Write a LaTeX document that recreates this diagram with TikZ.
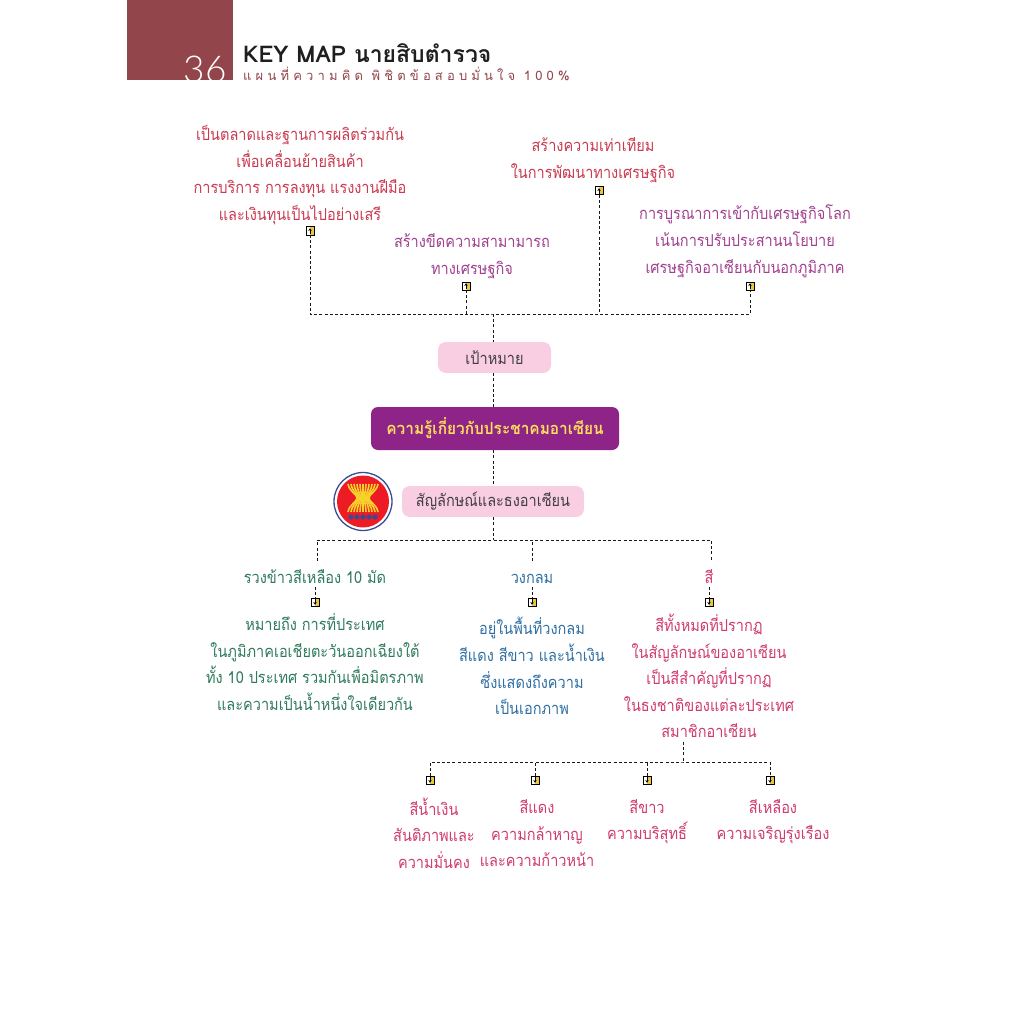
\documentclass[tikz,border=0pt]{standalone}
\usepackage{fontspec}
\usetikzlibrary{arrows.meta}
\newfontfamily\thaifont[Script=Thai,FakeStretch=0.88]{Loma}
\newfontfamily\thaimain[Script=Thai,FakeStretch=0.935]{Loma}
\newfontfamily\thaititle[Script=Thai]{Loma}
\newfontfamily\thaispaced[Script=Thai,LetterSpace=32]{Loma}
\newfontfamily\numfont{Lato Light}
\definecolor{hdr}{HTML}{92454B}
\definecolor{redtx}{HTML}{C93A50}
\definecolor{purptx}{HTML}{A0408F}
\definecolor{greentx}{HTML}{2F7A5C}
\definecolor{bluetx}{HTML}{2F6FA3}
\definecolor{pinktx}{HTML}{CF3A70}
\definecolor{pillpink}{HTML}{F9CDE2}
\definecolor{pillpurp}{HTML}{8E2488}
\definecolor{goldtx}{HTML}{FFDE5A}
\definecolor{iconyel}{HTML}{E8C840}
\definecolor{logored}{HTML}{ED1C24}
\definecolor{logoyel}{HTML}{F7D22A}
\definecolor{logoblue}{HTML}{3A4A96}
\tikzset{
  maptext/.style={align=center,inner sep=0pt,yshift=-2pt,font=\thaifont\fontsize{16.5}{26.6}\selectfont,
    execute at begin node=\strut,execute at end node=\strut},
  softpill/.style={rounded corners=8pt,fill=pillpink,inner sep=0pt,text=black!75,font=\thaifont\fontsize{16.5}{20}\selectfont},
  mainpill/.style={rounded corners=7pt,fill=pillpurp,inner sep=0pt,text=goldtx,font=\thaimain\bfseries\fontsize{16.5}{20}\selectfont},
  dashlink/.style={draw=black!90,line width=1pt,dash pattern=on 3pt off 2.2pt},
  iconbox/.style={draw=black,line width=1pt,minimum size=8pt,inner sep=0pt,outer sep=0pt,
    path picture={\fill[iconyel] (path picture bounding box.south) rectangle (path picture bounding box.north east);}},
  iconup/.style={iconbox,label={[inner sep=0pt,anchor=center]center:\tikz\draw[line width=.8pt,-{Stealth[length=2.6pt,width=3.4pt]}] (0,0)--(0,5.5pt);}},
  icondown/.style={iconbox,label={[inner sep=0pt,anchor=center]center:\tikz\draw[line width=.8pt,-{Stealth[length=2.6pt,width=3.4pt]}] (0,5.5pt)--(0,0);}},
}
\begin{document}
\begin{tikzpicture}[x=1pt,y=-1pt]
\useasboundingbox (0,0) rectangle (1024,1024);
% header
\begin{scope}
\clip (127,0) rectangle (233,80);
\fill[hdr] (127,0) rectangle (233,80);
\node[anchor=base east,text=white,inner sep=0pt,font=\numfont\fontsize{37}{37}\selectfont] (pagenum) at (227,83) {36};
\end{scope}
\node[anchor=base west,inner sep=0pt,text=black!88,font=\thaititle\bfseries\fontsize{23}{23}\selectfont] (title) at (243,63) {KEY MAP นายสิบตำรวจ};
\node[anchor=base west,inner sep=0pt,text=hdr,font=\thaispaced\fontsize{13}{13}\selectfont] (subtitle) at (243,81) {แผนที่ความคิด พิชิตข้อสอบมั่นใจ 100\%};
% top texts
\node[maptext,text=redtx] (ta) at (300,175) {เป็นตลาดและฐานการผลิตร่วมกัน\\เพื่อเคลื่อนย้ายสินค้า\\การบริการ การลงทุน แรงงานฝีมือ\\และเงินทุนเป็นไปอย่างเสรี};
\node[maptext,text=redtx] (tb) at (593,160) {สร้างความเท่าเทียม\\ในการพัฒนาทางเศรษฐกิจ};
\node[maptext,text=purptx] (tc) at (472,256) {สร้างขีดความสามามารถ\\ทางเศรษฐกิจ};
\node[maptext,text=purptx] (td) at (745,241) {การบูรณาการเข้ากับเศรษฐกิจโลก\\เน้นการปรับประสานนโยบาย\\เศรษฐกิจอาเซียนกับนอกภูมิภาค};
\node[iconup] (ia) at (310,231) {};
\node[iconup] (ib) at (599,191) {};
\node[iconup] (ic) at (466,286) {};
\node[iconup] (id) at (750,286) {};
\coordinate (trunk) at (493,314);
% pills
\node[softpill,minimum width=113pt,minimum height=31pt] (goal) at (494.5,357.5) {เป้าหมาย};
\node[mainpill,minimum width=248pt,minimum height=43pt] (main) at (495,428.5) {ความรู้เกี่ยวกับประชาคมอาเซียน};
\node[softpill,minimum width=182pt,minimum height=31pt] (sym) at (493,501.5) {สัญลักษณ์และธงอาเซียน};
% logo
\node[circle,draw=logoblue,line width=1.3pt,fill=white,minimum size=58pt,inner sep=0pt] (logo) at (363,501.5) {};
\fill[logored] (logo.center) circle (26pt);
\foreach \dx in {-15,-12,-9,-6,-3,0,3,6,9,12,15}{
  \draw[logoyel,line width=1.6pt] (363+\dx,484) .. controls (363+\dx*.9,492) and (363+\dx*.4,494) .. (363+\dx*.4,498) .. controls (363+\dx*.4,502) and (363+\dx*.9,504) .. (363+\dx,512);
}
\foreach \dx in {-12,-6,0,6,12}{\fill[logoblue] (363+\dx,517) circle (2.6pt);}
% middle texts
\node[maptext,text=greentx] (la) at (315,576) {รวงข้าวสีเหลือง 10 มัด};
\node[maptext,text=bluetx] (lb) at (532,576) {วงกลม};
\node[maptext,text=pinktx] (lc) at (709,576) {สี};
\node[icondown] (ja) at (315,602) {};
\node[icondown] (jb) at (532,602) {};
\node[icondown] (jc) at (709,602) {};
\node[maptext,text=greentx] (ma) at (315,664) {หมายถึง การที่ประเทศ\\ในภูมิภาคเอเชียตะวันออกเฉียงใต้\\ทั้ง 10 ประเทศ รวมกันเพื่อมิตรภาพ\\และความเป็นน้ำหนึ่งใจเดียวกัน};
\node[maptext,text=bluetx] (mb) at (532,668) {อยู่ในพื้นที่วงกลม\\สีแดง สีขาว และน้ำเงิน\\ซึ่งแสดงถึงความ\\เป็นเอกภาพ};
\node[maptext,text=pinktx] (mc) at (709,678) {สีทั้งหมดที่ปรากฏ\\ในสัญลักษณ์ของอาเซียน\\เป็นสีสำคัญที่ปรากฏ\\ในธงชาติของแต่ละประเทศ\\สมาชิกอาเซียน};
\coordinate (busm) at (493,540);
\coordinate (ea) at (317,561);
\coordinate (eb) at (532,561);
\coordinate (ec) at (711,561);
\coordinate (sa) at (315,587);
\coordinate (sb) at (532,587);
\coordinate (sc) at (709,587);
% bottom
\coordinate (busb) at (683,762);
\coordinate (stemb) at (683,742);
\node[icondown] (ka) at (430,780) {};
\node[icondown] (kb) at (535,780) {};
\node[icondown] (kc) at (647,780) {};
\node[icondown] (kd) at (770,780) {};
\node[maptext,text=pinktx] (na) at (434,835) {สีน้ำเงิน\\สันติภาพและ\\ความมั่นคง};
\node[maptext,text=pinktx] (nb) at (537,835) {สีแดง\\ความกล้าหาญ\\และความก้าวหน้า};
\node[maptext,text=pinktx] (nc) at (647,821.5) {สีขาว\\ความบริสุทธิ์};
\node[maptext,text=pinktx] (nd) at (773,821.5) {สีเหลือง\\ความเจริญรุ่งเรือง};
% connectors
\draw[dashlink] (ia.south) |- (trunk) -| (id.south);
\draw[dashlink] (ic.south) -- (ic.south |- trunk);
\draw[dashlink] (ib.south) -- (ib.south |- trunk);
\draw[dashlink] (trunk) -- (trunk |- goal.north);
\draw[dashlink] (trunk |- goal.south) -- (trunk |- main.north);
\draw[dashlink] (trunk |- main.south) -- (trunk |- sym.north);
\draw[dashlink] (trunk |- sym.south) -- (busm);
\draw[dashlink] (ea) |- (busm) -| (ec);
\draw[dashlink] (eb) -- (eb |- busm);
\draw[dashlink] (sa) -- (ja.north);
\draw[dashlink] (sb) -- (jb.north);
\draw[dashlink] (sc) -- (jc.north);
\draw[dashlink] (stemb) -- (busb);
\draw[dashlink] (ka.north) |- (busb) -| (kd.north);
\draw[dashlink] (kb.north) -- (kb.north |- busb);
\draw[dashlink] (kc.north) -- (kc.north |- busb);
\end{tikzpicture}
\end{document}
